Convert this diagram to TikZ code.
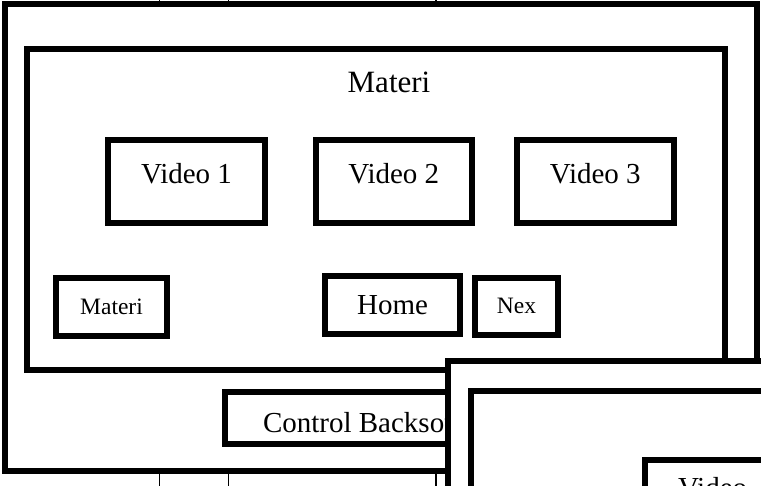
\documentclass[tikz,border=0pt]{standalone}
\usepackage{fontspec}
\setmainfont{Liberation Serif}
\begin{document}
\begin{tikzpicture}[x=1pt,y=-1pt,
  frame/.style={draw=black, line width=6pt, fill=white, inner sep=0pt, outer sep=0pt},
  box/.style={frame, font=\fontsize{29}{34}\selectfont},
  smallbox/.style={frame, font=\fontsize{23.5}{28}\selectfont},
  gridline/.style={draw=black, line width=1.5pt},
  txt/.style={inner sep=0pt, outer sep=0pt, font=\fontsize{29}{34}\selectfont}]
\useasboundingbox (0,0) rectangle (761,486);
\clip (0,0) rectangle (761,486);
% background grid lines
\coordinate (g1t) at (159.5,0);   \coordinate (g1b) at (159.5,486);
\coordinate (g2t) at (228.5,0);   \coordinate (g2b) at (228.5,486);
\coordinate (g3t) at (436,0);     \coordinate (g3b) at (436,486);
\draw[gridline] (g1t) -- (g1b);
\draw[gridline] (g2t) -- (g2b);
\draw[gridline] (g3t) -- (g3b);
% window 1
\node[frame, minimum width=752.5, minimum height=466.5] (win) at (380.75,237.75) {};
\node[frame, minimum width=697.5, minimum height=321] (materi) at (375.75,209.5) {};
\node[txt, font=\fontsize{31}{36}\selectfont, anchor=base] (title) at (389,93) {Materi};
\node[box, minimum width=156.5, minimum height=82.5] (v1) at (186.5,181.75) {};
\node[box, minimum width=156.5, minimum height=82.5] (v2) at (393.75,181.75) {};
\node[box, minimum width=157.5, minimum height=82.5] (v3) at (595.25,181.75) {};
\node[txt, anchor=base] (v1t) at (186.5,184) {Video 1};
\node[txt, anchor=base] (v2t) at (393.75,184) {Video 2};
\node[txt, anchor=base] (v3t) at (595.25,184) {Video 3};
\node[smallbox, minimum width=111, minimum height=58] (mat) at (111.5,307) {Materi};
\node[box, minimum width=135, minimum height=57.6] (home) at (392.5,304.8) {Home};
\node[smallbox, minimum width=83, minimum height=56.6] (nex) at (516.5,306.3) {Nex};
\node[box, minimum width=301.5, minimum height=52] (ctrl) at (375.25,418.5) {};
\node[txt, anchor=base west] (ctrlt) at (263,432) {Control Backsound};
% window 2 (overlapping)
\node[frame, anchor=north west, minimum width=400, minimum height=300] (win2) at (448,361.5) {};
\node[frame, anchor=north west, minimum width=380, minimum height=280] (inner2) at (470.5,391.5) {};
\node[frame, anchor=north west, minimum width=200, minimum height=90] (vid2) at (644.5,459.5) {};
\node[txt, anchor=base west] (vid2t) at (678,497) {Video};
\end{tikzpicture}
\end{document}
